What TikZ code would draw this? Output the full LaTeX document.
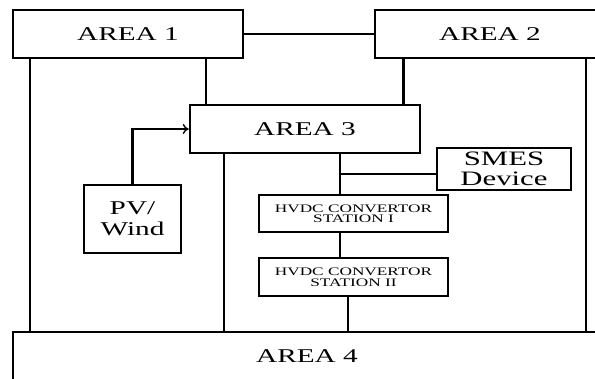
\documentclass[tikz,border=0pt]{standalone}
\usepackage{fontspec}
\setmainfont{Liberation Serif}
\newfontfamily\wf[FakeStretch=1.5]{Liberation Serif}
\usetikzlibrary{arrows.meta}
\begin{document}
\begin{tikzpicture}[x=1pt,y=-1pt,
  box/.style={draw, line width=2.5pt, fill=white, inner sep=0pt, align=center},
  wire/.style={line width=2.5pt},
  thin wire/.style={line width=1.6pt},
  big/.style={font=\wf\fontsize{19.5}{20}\selectfont},
  mid/.style={font=\wf\fontsize{19.5}{21}\selectfont},
  small/.style={font=\wf\fontsize{11.5}{10.5}\selectfont}]
\useasboundingbox (0,0) rectangle (595,378);
\clip (0,0) rectangle (595,378);
\node[box,big,minimum width=230pt,minimum height=48pt] (a1) at (128,34) {AREA 1};
\node[box,big,minimum width=230pt,minimum height=48pt] (a2) at (490,34) {AREA 2};
\node[box,big,minimum width=230pt,minimum height=48pt] (a3) at (305,129) {AREA 3};
\node[box,big,minimum width=588pt,minimum height=48pt] (a4) at (307,356) {AREA 4};
\node[box,mid,minimum width=97pt,minimum height=68pt] (pv) at (132.5,219) {PV/\\Wind};
\node[box,font=\wf\fontsize{20.5}{19.5}\selectfont,minimum width=134pt,minimum height=42pt] (smes) at (504,169) {SMES\\Device};
\node[box,small,minimum width=189pt,minimum height=37pt] (h1) at (353.5,213.5) {HVDC CONVERTOR\\STATION I};
\node[box,small,minimum width=189pt,minimum height=38pt] (h2) at (353.5,277) {HVDC CONVERTOR\\STATION II};
\coordinate (hx) at ([xshift=82pt]h1.north west);
% connectors
\draw[thin wire] (a1.east) -- (a2.west);
\draw[wire] ([xshift=18pt]a1.south west) -- ([xshift=18pt]a1.south west |- a4.north);
\draw[wire] ([xshift=17pt]a3.north west |- a1.south) -- ([xshift=17pt]a3.north west);
\draw[wire] ([xshift=-18pt]a3.north east |- a2.south) -- ([xshift=-18pt]a3.north east);
\draw[wire] ([xshift=212pt]a2.south west) -- ([xshift=212pt]a2.south west |- a4.north);
\draw[wire,-{To[length=6pt,width=10pt,line width=1.4pt]}] (pv.north) -- (pv.north |- a3.west) -- (a3.west);
\draw[wire] ([xshift=35pt]a3.south west) -- ([xshift=35pt]a3.south west |- a4.north);
\draw[wire] (hx |- a3.south) -- (hx);
\draw[thin wire] ([yshift=-5pt]smes.west) -- ([yshift=-5pt]smes.west -| hx);
\draw[wire] ([xshift=82pt]h1.south west) -- ([xshift=82pt]h2.north west);
\draw[wire] ([xshift=90pt]h2.south west) -- ([xshift=90pt]h2.south west |- a4.north);
\end{tikzpicture}
\end{document}
